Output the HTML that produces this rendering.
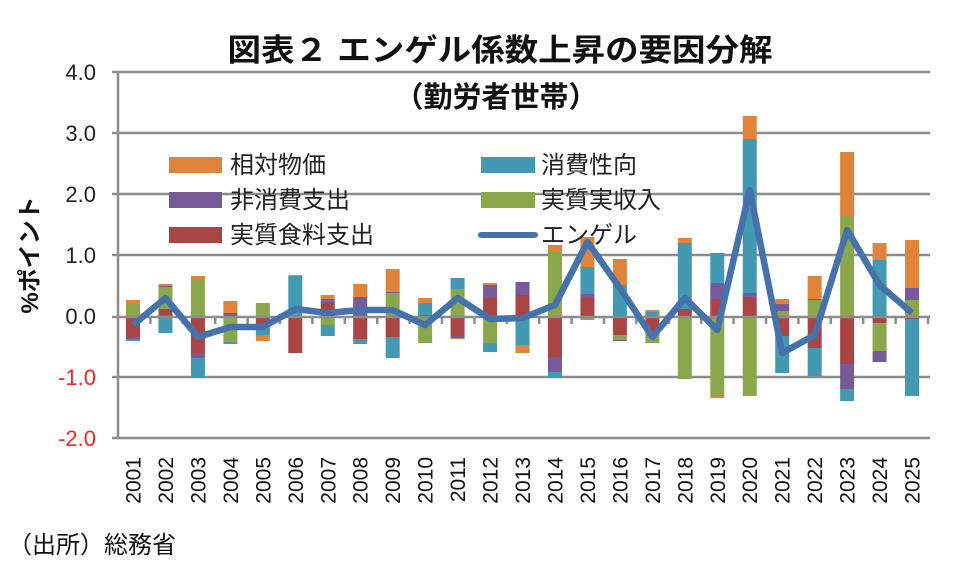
<!DOCTYPE html>
<html><head><meta charset="utf-8"><style>
body{margin:0;background:#fff}
svg{display:block;font-family:"Liberation Sans","Noto Sans CJK JP",sans-serif}
</style></head><body>
<svg width="960" height="571" viewBox="0 0 960 571" xmlns="http://www.w3.org/2000/svg">
<rect width="960" height="571" fill="#fff"/>
<g stroke="#8c8c8c" stroke-width="2.5">
<line x1="112" y1="72" x2="930" y2="72"/>
<line x1="112" y1="133" x2="930" y2="133"/>
<line x1="112" y1="194" x2="930" y2="194"/>
<line x1="112" y1="255" x2="930" y2="255"/>
<line x1="112" y1="377" x2="930" y2="377"/>
<line x1="112" y1="438" x2="930" y2="438"/>
<line x1="118" y1="72" x2="118" y2="438"/>
</g>
<g font-size="22" text-anchor="end" fill="#222">
<text x="96" y="80">4.0</text><text x="96" y="141">3.0</text><text x="96" y="202">2.0</text>
<text x="96" y="263">1.0</text><text x="96" y="324">0.0</text>
<text x="96" y="385" fill="#f22">-1.0</text><text x="96" y="446" fill="#f22">-2.0</text>
</g>
<g id="bars"></g>
<g stroke="#8c8c8c" stroke-width="2.5" id="axis">
<line x1="112" y1="317" x2="930" y2="317"/>
</g>
<polyline id="ln" fill="none" stroke="#4572ab" stroke-width="6.5" stroke-linejoin="round" points=""/>
<g id="yrs" font-size="21" fill="#111"></g>
<text x="500" y="61" font-size="31" font-weight="bold" text-anchor="middle" fill="#111" textLength="545" lengthAdjust="spacingAndGlyphs">図表２ エンゲル係数上昇の要因分解</text>
<text x="496" y="107" font-size="29" font-weight="bold" text-anchor="middle" fill="#111">（勤労者世帯）</text>
<text transform="translate(38,255) rotate(-90)" font-size="24" font-weight="bold" text-anchor="middle" fill="#111">%ポイント</text>
<g font-size="24" fill="#222">
<rect x="169" y="157" width="53" height="16" fill="#e0843b"/><text x="230" y="173">相対物価</text>
<rect x="481" y="157" width="54" height="16" fill="#4299b1"/><text x="541" y="173">消費性向</text>
<rect x="169" y="192" width="53" height="16" fill="#765a9a"/><text x="230" y="208">非消費支出</text>
<rect x="481" y="192" width="54" height="16" fill="#8aa84b"/><text x="541" y="208">実質実収入</text>
<rect x="169" y="227" width="53" height="16" fill="#a94545"/><text x="230" y="243">実質食料支出</text>
<line x1="481" y1="235" x2="535" y2="235" stroke="#4572ab" stroke-width="6" stroke-linecap="round"/><text x="541" y="243">エンゲル</text>
</g>
<text x="8" y="553" font-size="24" fill="#111">（出所）総務省</text>
<script>
var O="#e0843b",T="#4299b1",P="#765a9a",G="#8aa84b",R="#a94545";
var d=[
[[300,304,O],[304,317,G],[317,337,R],[337,339,P],[339,341,T]],
[[284,286,O],[286,287,P],[287,309,G],[309,317,R],[317,333,T]],
[[276,279,O],[279,317,G],[317,353,R],[353,358,P],[358,378,T]],
[[301,313,O],[313,317,P],[317,342,G],[342,344,T]],
[[303,317,G],[317,326,R],[326,335,T],[335,341,O]],
[[275,276,O],[276,317,T],[317,353,R]],
[[295,299,O],[299,303,P],[303,317,R],[317,325,G],[325,336,T]],
[[284,297,O],[297,317,P],[317,339,R],[339,344,T]],
[[269,292,O],[292,293,P],[293,317,G],[317,337,R],[337,358,T]],
[[298,303,O],[303,315,T],[315,317,P],[317,343,G]],
[[278,289,T],[289,317,G],[317,336,R],[336,338,P],[338,339,O]],
[[283,285,O],[285,298,P],[298,317,R],[317,343,G],[343,352,T]],
[[282,295,P],[295,317,R],[317,345,T],[345,353,O]],
[[245,252,O],[252,317,G],[317,357,R],[357,372,P],[372,378,T]],
[[237,267,O],[267,294,T],[294,298,P],[298,317,R],[317,320,G]],
[[259,285,O],[285,317,T],[317,335,R],[335,340,G],[340,341,P]],
[[310,312,O],[312,317,T],[317,333,R],[333,343,G]],
[[238,243,O],[243,309,T],[309,317,R],[317,379,G]],
[[253,283,T],[283,299,P],[299,317,R],[317,396,G],[396,398,O]],
[[116,139,O],[139,293,T],[293,297,P],[297,317,R],[317,396,G]],
[[299,304,O],[304,311,P],[311,317,G],[317,336,R],[336,373,T]],
[[276,299,O],[299,300,P],[300,317,G],[317,348,R],[348,376,T]],
[[152,216,O],[216,317,G],[317,364,R],[364,389,P],[389,401,T]],
[[243,260,O],[260,317,T],[317,323,R],[323,351,G],[351,362,P]],
[[240,288,O],[288,300,P],[300,317,G],[317,319,R],[319,396,T]]];
var ly=[325,298,337,327,327,309,313,310,310,325,298,319,318,305,242,288,337,298,330,190,353,335,230,285,313];
var ns="http://www.w3.org/2000/svg",b=document.getElementById("bars"),ax=document.getElementById("axis"),yr=document.getElementById("yrs"),pts=[];
for(var i=0;i<25;i++){var cx=133+32.46*i;
d[i].forEach(function(s){var r=document.createElementNS(ns,"rect");r.setAttribute("x",cx-7);r.setAttribute("y",s[0]);r.setAttribute("width",14);r.setAttribute("height",s[1]-s[0]);r.setAttribute("fill",s[2]);b.appendChild(r);});
var t=document.createElementNS(ns,"line"),tx=118+32.4*(i+1);t.setAttribute("x1",tx);t.setAttribute("x2",tx);t.setAttribute("y1",317);t.setAttribute("y2",324);ax.appendChild(t);
var tt=document.createElementNS(ns,"text");tt.setAttribute("transform","translate("+(cx+7.5)+",457) rotate(-90)");tt.setAttribute("text-anchor","end");tt.textContent=2001+i;yr.appendChild(tt);
pts.push(cx+","+ly[i]);}
document.getElementById("ln").setAttribute("points",pts.join(" "));
</script>
</svg>
</body></html>
